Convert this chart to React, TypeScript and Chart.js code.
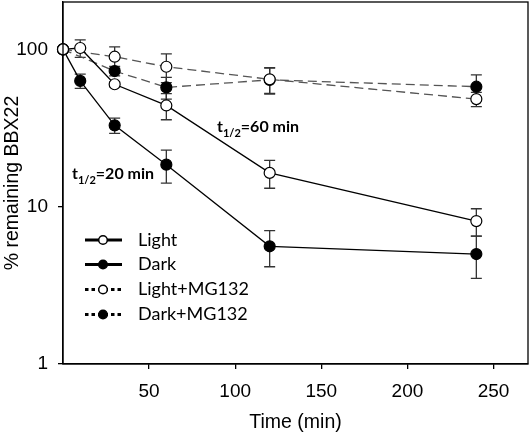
import React, { useEffect, useRef } from "react";
import { Chart, registerables } from "chart.js";

Chart.register(...registerables);

const times = [0, 10, 30, 60, 120, 240];
const mgTimes = [0, 30, 60, 120, 240];
const lightValues = [100, 102, 60, 44, 16.4, 8.1];
const lightErrors = [0, 13, 2, 8.3, 3.3, 1.6];
const darkValues = [100, 63, 32.9, 18.5, 5.6, 5.0];
const darkErrors = [0, 6.5, 3.7, 4.4, 1.45, 1.5];
const lightMgValues = [100, 89.8, 77.5, 64.5, 48.3];
const lightMgErrors = [0, 14, 16, 12, 5];
const darkMgValues = [100, 72.8, 57.3, 64, 57.9];
const darkMgErrors = [0, 5, 9, 12, 11];
const xTicks = [50, 100, 150, 200, 250];
const yTicks = [1, 10, 100];
const seriesNames = ["Light", "Dark", "Light+MG132", "Dark+MG132"];
const xTitle = "Time (min)";
const yTitle = "% remaining BBX22";

const AXIS_FONT = "'Liberation Sans', Arial, sans-serif";
const LABEL_FONT = "Lato, 'Open Sans', sans-serif";

const errorBarPlugin = {
  id: "errorBars",
  beforeDatasetsDraw(chart: any) {
    const ctx = chart.ctx;
    const xs = chart.scales.x;
    const ys = chart.scales.y;
    ctx.save();
    ctx.strokeStyle = "#333";
    ctx.lineWidth = 1.3;
    chart.data.datasets.forEach((ds: any) => {
      ds.data.forEach((p: any, i: number) => {
        const e = ds.errors[i];
        if (!e) return;
        const x = xs.getPixelForValue(p.x);
        const y1 = ys.getPixelForValue(p.y + e);
        const y2 = ys.getPixelForValue(Math.max(p.y - e, 0.01));
        ctx.beginPath();
        ctx.moveTo(x, y1);
        ctx.lineTo(x, y2);
        ctx.moveTo(x - 5.5, y1);
        ctx.lineTo(x + 5.5, y1);
        ctx.moveTo(x - 5.5, y2);
        ctx.lineTo(x + 5.5, y2);
        ctx.stroke();
      });
    });
    ctx.restore();
  },
};

function drawHalfLife(ctx: any, x: number, baseline: number, rest: string) {
  ctx.font = `bold 16px ${LABEL_FONT}`;
  ctx.fillText("t", x, baseline);
  const w1 = ctx.measureText("t").width;
  ctx.font = `bold 11px ${LABEL_FONT}`;
  ctx.fillText("1/2", x + w1, baseline + 5);
  const w2 = ctx.measureText("1/2").width;
  ctx.font = `bold 16px ${LABEL_FONT}`;
  ctx.fillText(rest, x + w1 + w2, baseline);
}

const decorPlugin = {
  id: "decor",
  afterDraw(chart: any) {
    const ctx = chart.ctx;
    const a = chart.chartArea;
    ctx.save();
    ctx.strokeStyle = "#000";
    ctx.lineWidth = 1.3;
    ctx.strokeRect(a.left, a.top, a.right - a.left, a.bottom - a.top);

    ctx.fillStyle = "#000";
    ctx.textAlign = "left";
    ctx.textBaseline = "alphabetic";
    drawHalfLife(ctx, 217, 132, "=60 min");
    drawHalfLife(ctx, 72, 179, "=20 min");

    const rows = [240, 264.5, 289.5, 314.5];
    seriesNames.forEach((name, i) => {
      const y = rows[i];
      const dashed = i >= 2;
      const filled = i % 2 === 1;
      ctx.save();
      ctx.strokeStyle = "#000";
      ctx.lineWidth = 3.2;
      ctx.setLineDash(dashed ? [3.5, 3] : []);
      ctx.beginPath();
      ctx.moveTo(85, y);
      ctx.lineTo(122, y);
      ctx.stroke();
      ctx.setLineDash([]);
      ctx.beginPath();
      ctx.arc(103, y, 4.3, 0, Math.PI * 2);
      ctx.fillStyle = filled ? "#000" : "#fff";
      ctx.fill();
      ctx.lineWidth = 1.5;
      ctx.stroke();
      ctx.restore();
      ctx.font = `18px ${LABEL_FONT}`;
      ctx.fillStyle = "#000";
      ctx.textBaseline = "middle";
      ctx.fillText(name, 138, y);
    });
    ctx.restore();
  },
};

export default function App() {
  const ref = useRef<HTMLCanvasElement | null>(null);
  useEffect(() => {
    document.body.style.margin = "0";
    const mk = (ts: number[], vs: number[]) => ts.map((t, i) => ({ x: t, y: vs[i] }));
    const common = {
      borderWidth: 1.3,
      pointBorderColor: "#000",
      pointBorderWidth: 1.2,
      pointRadius: 5.5,
      clip: false,
    };
    const zeroPad = (s: any) => {
      s.paddingTop = 0;
      s.paddingBottom = 0;
      s.paddingLeft = 0;
      s.paddingRight = 0;
    };
    const chart = new Chart(ref.current as HTMLCanvasElement, {
      type: "line",
      data: {
        datasets: [
          {
            ...common,
            label: seriesNames[0],
            data: mk(times, lightValues),
            errors: lightErrors,
            borderColor: "#000",
            pointBackgroundColor: "#fff",
          },
          {
            ...common,
            label: seriesNames[1],
            data: mk(times, darkValues),
            errors: darkErrors,
            borderColor: "#000",
            pointBackgroundColor: "#000",
          },
          {
            ...common,
            label: seriesNames[2],
            data: mk(mgTimes, lightMgValues),
            errors: lightMgErrors,
            borderColor: "#555",
            borderDash: [9, 5],
            pointBackgroundColor: "#fff",
          },
          {
            ...common,
            label: seriesNames[3],
            data: mk(mgTimes, darkMgValues),
            errors: darkMgErrors,
            borderColor: "#555",
            borderDash: [9, 5],
            pointBackgroundColor: "#000",
          },
        ] as any,
      },
      options: {
        animation: false,
        responsive: false,
        events: [],
        layout: { autoPadding: false, padding: { top: 2, right: 3, left: 0, bottom: 0 } },
        plugins: { legend: { display: false }, tooltip: { enabled: false } },
        scales: {
          x: {
            type: "linear",
            min: 0,
            max: 270,
            afterBuildTicks: (s: any) => {
              s.ticks = xTicks.map((v) => ({ value: v }));
            },
            afterFit: (s: any) => {
              s.height = 71;
              zeroPad(s);
            },
            border: { color: "#000", width: 1.3 },
            grid: { display: true, drawOnChartArea: false, drawTicks: true, tickLength: 5, color: "#000", lineWidth: 1.3 },
            ticks: { color: "#000", font: { family: AXIS_FONT, size: 19 }, padding: 11, maxRotation: 0, callback: (v: any) => String(v) },
            title: { display: true, text: xTitle, color: "#000", font: { family: AXIS_FONT, size: 19.5 }, padding: { top: 0, bottom: 1 } },
          },
          y: {
            type: "logarithmic",
            min: 1,
            max: 200,
            afterBuildTicks: (s: any) => {
              s.ticks = yTicks.map((v) => ({ value: v }));
            },
            afterFit: (s: any) => {
              s.width = 63;
              zeroPad(s);
            },
            border: { color: "#000", width: 1.3 },
            grid: { display: true, drawOnChartArea: false, drawTicks: true, tickLength: 5, color: "#000", lineWidth: 1.3 },
            ticks: { color: "#000", font: { family: AXIS_FONT, size: 19 }, padding: 10, callback: (v: any) => String(v) },
            title: { display: true, text: yTitle, color: "#000", font: { family: AXIS_FONT, size: 19.5 }, padding: { top: 1, bottom: 0 } },
          },
        },
      } as any,
      plugins: [errorBarPlugin, decorPlugin],
    });
    return () => chart.destroy();
  }, []);
  return (
    <div style={{ width: 531, height: 435 }}>
      <canvas ref={ref} width={531} height={435} style={{ display: "block", width: 531, height: 435 }} />
    </div>
  );
}
